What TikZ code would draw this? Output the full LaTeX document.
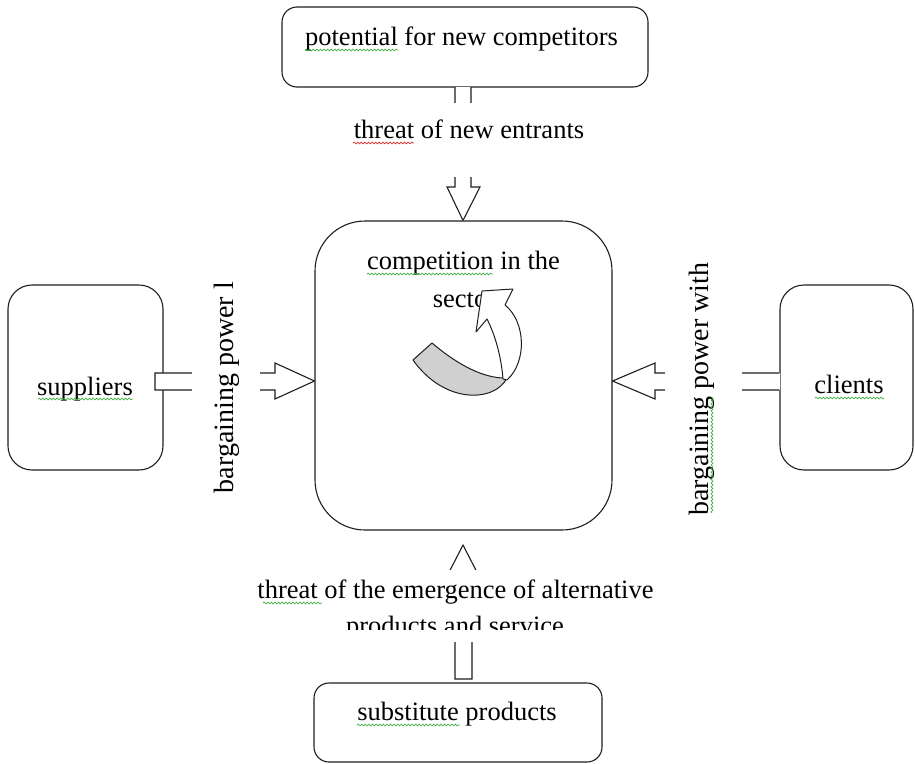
\documentclass[tikz,border=0pt]{standalone}
\usepackage{fontspec}
\setmainfont{Liberation Serif}
\usetikzlibrary{decorations.pathmorphing}
\definecolor{spellgreen}{RGB}{70,175,70}
\definecolor{spellred}{RGB}{225,45,45}
\definecolor{ribbon}{RGB}{208,208,208}
\definecolor{ink}{RGB}{30,30,30}
\begin{document}
\begin{tikzpicture}[x=1pt,y=-1pt,
  box/.style={draw=ink,line width=1.1pt,rounded corners=#1,fill=white,inner sep=0pt},
  blockline/.style={draw=ink,line width=1.1pt,line join=miter},
  cover/.style={fill=white,inner sep=0pt},
  txt/.style={anchor=base,inner sep=0pt,font=\fontsize{26.5}{30}\selectfont},
  vtxt/.style={anchor=base,inner sep=0pt,rotate=90,font=\fontsize{28}{30}\selectfont},
  spell/.style={draw=#1,line width=0.7pt,decorate,
    decoration={snake,segment length=3.6pt,amplitude=0.9pt}}
]
\useasboundingbox (0,0) rectangle (915,763);

% --- the five boxes of the model
\node[box=15pt,minimum width=366pt,minimum height=80pt]  (pot)  at (465,47)    {};
\node[box=50pt,minimum width=297pt,minimum height=309pt] (comp) at (463.5,375.5) {};
\node[box=24pt,minimum width=155pt,minimum height=185pt] (sup)  at (85.5,377.5) {};
\node[box=24pt,minimum width=133pt,minimum height=185pt] (cli)  at (846.5,377.5) {};
\node[box=15pt,minimum width=288pt,minimum height=79pt]  (sub)  at (458,722.5) {};

% --- block arrows pointing at the central box
% from new competitors (top)
\fill[white] (455,87) -- (455,187) -- (447,187) -- (463,221) -- (480,187) -- (471,187) -- (471,87) -- cycle;
\draw[blockline] (455,87) -- (455,187) -- (447,187) -- (comp.north -| 463,0) -- (480,187) -- (471,187) -- (471,87);
% from suppliers (left)
\draw[blockline,fill=white] (155,373) -- (275,373) -- (275,363) -- (comp.west |- 0,381) -- (275,399) -- (275,390) -- (155,390) -- cycle;
% from clients (right)
\fill[white] (780,373) -- (655,373) -- (655,363) -- (613,381) -- (655,399) -- (655,390) -- (780,390) -- cycle;
\draw[blockline] (cli.west |- 0,373) -- (655,373) -- (655,363) -- (comp.east |- 0,381) -- (655,399) -- (655,390) -- (cli.west |- 0,390);
% from substitute products (bottom)
\draw[blockline,fill=white] (455,679) -- (455,580) -- (445,580) -- (463,545) -- (481,580) -- (472,580) -- (472,679) -- cycle;

% --- white label panels laid over the arrows
\node[cover,minimum width=260pt,minimum height=74pt] (entrpanel) at (470,140) {};
\node[cover,minimum width=68pt,minimum height=250pt] (suppanel) at (226,388) {};
\node[cover,minimum width=77pt,minimum height=265pt] (clipanel) at (703.5,388) {};
\node[cover,minimum width=405pt,minimum height=72pt] (subpanel) at (457,606) {};

% --- texts
\node[txt] (potT)  at (461.5,45)  {potential for new competitors};
\node[txt] (entrT) at (469,138)   {threat of new entrants};
\node[txt] (compT) at (463.5,269) {competition in the};
\node[txt] (secT)  at (464.5,307) {sector};
\node[txt] (supT)  at (85,395)    {suppliers};
\node[txt] (cliT)  at (849,393)   {clients};
\node[txt] (subT)  at (457,720)   {substitute products};
\node[vtxt] (supL) at (233,387.5) {bargaining power l};
\node[vtxt] (cliL) at (708,389)   {bargaining power with};
\node[txt] (altT)  at (455.5,598) {threat of the emergence of alternative};
\begin{scope}
  \clip (250,600) rectangle (670,629);
  \node[txt] (altT2) at (455,634) {products and service};
\end{scope}

% --- proofing marks under words
\draw[spell=spellgreen] (305,50)  -- (398,50);
\draw[spell=spellred]   (353,143) -- (414,143);
\draw[spell=spellgreen] (367,274) -- (493,274);
\draw[spell=spellgreen] (38,399)  -- (133,399);
\draw[spell=spellgreen] (815,398) -- (884,398);
\draw[spell=spellgreen] (263,603) -- (322,603);
\draw[spell=spellgreen] (357,725) -- (460,725);
\draw[spell=spellgreen] (712,513) -- (712,397);

% --- circular arrow inside the central box
\draw[blockline,line width=1pt,fill=ribbon,line join=round]
  (432,343) .. controls (452,360) and (478,377) .. (503,378)
  -- (507,378) .. controls (495,402) and (445,405) .. (413,360) -- cycle;
\draw[blockline,line width=1pt,fill=white,line join=round]
  (503,379) .. controls (501,355) and (495,335) .. (487,319)
  -- (476,332) -- (482,291) -- (513,289) -- (505,305)
  .. controls (526,322) and (527,362) .. (507,380) -- cycle;
\end{tikzpicture}
\end{document}
